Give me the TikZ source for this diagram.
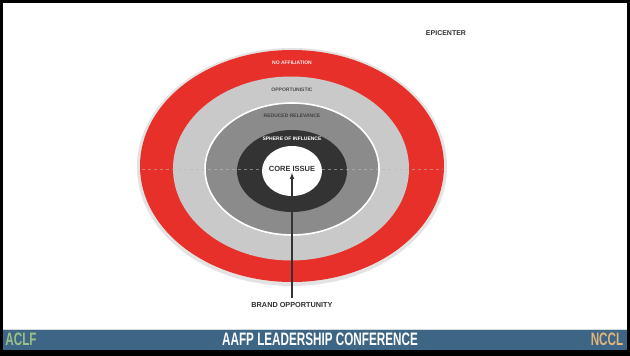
\documentclass[tikz,border=0pt]{standalone}
\usepackage{fontspec}
\setmainfont{Liberation Sans}
\newfontfamily\bannerfont[FakeStretch=0.65]{Liberation Sans}
\usepackage{tikz}
\usetikzlibrary{arrows}

\definecolor{ringred}{HTML}{E8302A}
\definecolor{ringlight}{HTML}{C9C9C9}
\definecolor{ringmid}{HTML}{8B8B8B}
\definecolor{ringdark}{HTML}{333333}
\definecolor{bannerblue}{HTML}{3C6586}
\definecolor{aclfgreen}{HTML}{9DBF85}
\definecolor{ncclorange}{HTML}{E3B37A}

\begin{document}
\begin{tikzpicture}[x=1pt,y=-1pt,
    ringlabel/.style={font=\bfseries\fontsize{5}{5}\selectfont,inner sep=0},
    smalllabel/.style={font=\bfseries\fontsize{7}{8}\selectfont,text=black!80,inner sep=1},
    bannertext/.style={font=\bannerfont\bfseries\fontsize{18}{19}\selectfont,inner sep=0}]
    \useasboundingbox (0,0) rectangle (630,356);
    % frame and banner
    \fill[white] (0,0) rectangle (630,356);
    \fill[bannerblue] (0,329) rectangle (630,350);
    \draw[gray!30,line width=1] (2,329) -- (628,329);
    \fill[black] (0,350) rectangle (630,356);
    \draw[black,line width=3] (1.5,1.5) rectangle (628.5,354.5);
    \node[bannertext,text=aclfgreen] (aclf) at (21,339) {ACLF};
    \node[bannertext,text=white] (conf) at (320,339) {AAFP LEADERSHIP CONFERENCE};
    \node[bannertext,text=ncclorange] (nccl) at (607,339) {NCCL};

    % rings
    \fill[gray!22] (292,167) ellipse [x radius=155, y radius=119];
    \fill[ringred] (292,166) ellipse [x radius=152, y radius=116];
    \fill[ringlight] (291,168.5) ellipse [x radius=118, y radius=92];
    \fill[ringmid,draw=white,line width=1.6] (292,169) ellipse [x radius=87, y radius=66];
    \fill[ringdark] (292,171) ellipse [x radius=55, y radius=41];
    \draw[gray!55,dashed,line width=0.5,opacity=0.6] (142,169) -- (443,169);
    \fill[white] (292,171) ellipse [x radius=30, y radius=25];

    \node[ringlabel,text=white!90!ringred] (noaff) at (292,63) {NO AFFILIATION};
    \node[ringlabel,text=black!70] (opport) at (292,90) {OPPORTUNISTIC};
    \node[ringlabel,text=black!75] (reduced) at (292,116) {REDUCED RELEVANCE};
    \node[ringlabel,text=white!85] (sphere) at (292,139) {SPHERE OF INFLUENCE};

    \node[smalllabel,font=\bfseries\fontsize{7.5}{8}\selectfont] (core) at (292,169) {CORE ISSUE};
    \node[smalllabel,font=\bfseries\fontsize{7.3}{8}\selectfont] (brand) at (292,305) {BRAND OPPORTUNITY};
    \node[smalllabel] (epi) at (446,33) {EPICENTER};

    \coordinate (tail) at (292,298);
    \draw[-latex,black!80,line width=1.1] (tail) -- (core.south);
\end{tikzpicture}
\end{document}
